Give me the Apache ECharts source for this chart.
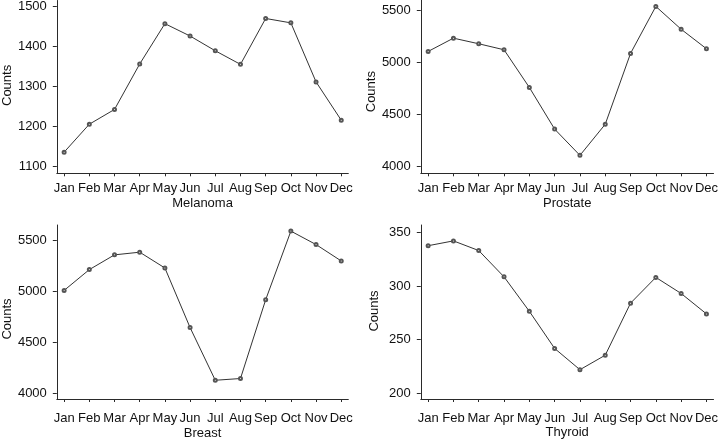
<!DOCTYPE html>
<html>
<head>
<meta charset="utf-8">
<script src="https://cdn.jsdelivr.net/npm/echarts@6/dist/echarts.min.js"></script>
<style>html,body{margin:0;padding:0;background:#fff}#c{width:721px;height:441px}</style>
</head>
<body>
<div id="c"></div>
<script>
var months = ['Jan','Feb','Mar','Apr','May','Jun','Jul','Aug','Sep','Oct','Nov','Dec'];
var melanoma = [1135, 1205, 1242, 1356, 1457, 1426, 1389, 1355, 1470, 1459, 1311, 1215];
var prostate = [5107, 5235, 5181, 5123, 4760, 4358, 4105, 4405, 5088, 5541, 5321, 5133];
var breast   = [5010, 5214, 5359, 5385, 5230, 4645, 4128, 4145, 4918, 5592, 5460, 5299];
var thyroid  = [337.5, 342, 333, 308.5, 276.4, 241.8, 222, 235.5, 284, 308, 293, 274];
var melTicks = [1100, 1200, 1300, 1400, 1500];
var proTicks = [4000, 4500, 5000, 5500];
var brTicks  = [4000, 4500, 5000, 5500];
var thyTicks = [200, 250, 300, 350];
var panelNames = ['Melanoma', 'Prostate', 'Breast', 'Thyroid'];

var FONT = '"Liberation Sans", Arial, Helvetica, sans-serif';
var TXT = '#111';
var AX = '#2a2a2a';
var monthIdx = months.map(function (m, i) { return i; });

var panels = [
  {data: melanoma, ticks: melTicks, min: 1082, max: 1515, grid: {left: 53.5, top: 0, width: 294.8, height: 173.3}, lm: 8.5, ng: 23.5, yPad: [0, 0, 0, 3]},
  {data: prostate, ticks: proTicks, min: 3932, max: 5603, grid: {left: 420.8, top: 0, width: 294.2, height: 173.3}, lm: 8.5, ng: 23.5, yPad: [0, 10, 0, 0]},
  {data: breast,   ticks: brTicks,  min: 3944, max: 5652, grid: {left: 53.5, top: 225, width: 294.8, height: 174}, lm: 12.5, ng: 27.5, yPad: [0, 14, 0, 0]},
  {data: thyroid,  ticks: thyTicks, min: 194.7, max: 356.8, grid: {left: 420.8, top: 225, width: 294.2, height: 174}, lm: 12.5, ng: 27, yPad: [0, 0, 0, 2]}
];

var option = {
  backgroundColor: '#fff',
  animation: false,
  textStyle: {fontFamily: FONT},
  grid: [], xAxis: [], yAxis: [], series: []
};

panels.forEach(function (p, k) {
  option.grid.push(p.grid);
  option.xAxis.push({
    type: 'value', gridIndex: k, min: -0.29, max: 11.28,
    name: panelNames[k], nameLocation: 'middle', nameGap: p.ng,
    nameTextStyle: {fontFamily: FONT, fontSize: 13, color: TXT},
    axisLine: {show: true, onZero: false, lineStyle: {color: AX, width: 1}},
    axisTick: {show: true, length: 3, customValues: monthIdx, lineStyle: {color: AX}},
    axisLabel: {show: true, margin: p.lm, customValues: monthIdx, fontFamily: FONT, fontSize: 13, color: TXT,
      formatter: function (v) { return months[Math.round(v)]; }},
    splitLine: {show: false}
  });
  option.yAxis.push({
    type: 'value', gridIndex: k, min: p.min, max: p.max,
    name: 'Counts', nameLocation: 'middle', nameGap: 40,
    nameTextStyle: {fontFamily: FONT, fontSize: 13, color: TXT, padding: p.yPad},
    axisLine: {show: true, onZero: false, lineStyle: {color: AX, width: 1}},
    axisTick: {show: true, length: 4, customValues: p.ticks, lineStyle: {color: AX}},
    axisLabel: {show: true, margin: 10, customValues: p.ticks, fontFamily: FONT, fontSize: 13, color: TXT,
      formatter: function (v) { return String(v); }},
    splitLine: {show: false}
  });
  option.series.push({
    type: 'line', xAxisIndex: k, yAxisIndex: k,
    data: p.data.map(function (v, i) { return [i, v]; }),
    symbol: 'emptyCircle', symbolSize: 3, showSymbol: true,
    lineStyle: {color: '#333', width: 1},
    itemStyle: {color: '#555', borderWidth: 0.7},
    silent: true
  });
});

echarts.init(document.getElementById('c'), null, {renderer: 'canvas'}).setOption(option);
</script>
</body>
</html>
